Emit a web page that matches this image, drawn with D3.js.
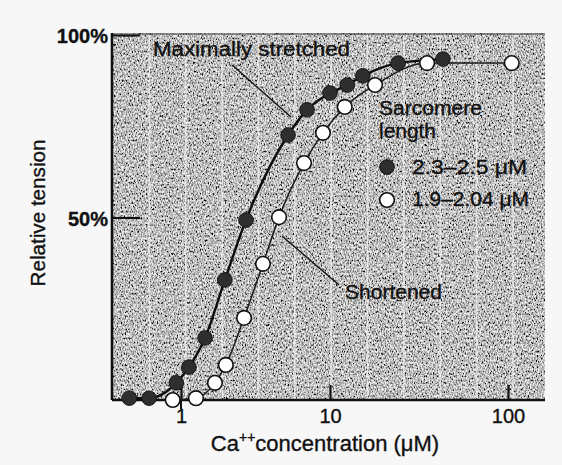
<!DOCTYPE html>
<html>
<head>
<meta charset="utf-8">
<script src="https://cdn.jsdelivr.net/npm/d3@7"></script>
<style>
  html, body { margin: 0; padding: 0; background: #f7f7f7; }
  svg { display: block; }
  text { font-family: "Liberation Sans", Arial, Helvetica, sans-serif; fill: #111; stroke: #111; stroke-width: 0.35px; }
</style>
</head>
<body>
<svg id="chart" width="562" height="465"></svg>
<script>
// ---- data ----
const stretchedConc    = [0.45, 0.61, 0.93, 1.13, 1.45, 1.97, 2.73, 5.23, 7.01, 10, 12.5, 15.3, 24.1, 43.1];
const stretchedTension = [0.5, 0.5, 4.7, 9.0, 17.0, 32.9, 49.3, 72.6, 79.5, 84.1, 86.3, 88.8, 92.3, 93.4];
const shortenedConc    = [0.88, 1.26, 1.69, 2.0, 2.65, 3.55, 4.55, 6.69, 8.97, 12.1, 17.9, 35.1, 105];
const shortenedTension = [0, 0.5, 4.7, 9.6, 22.5, 37.3, 50.1, 64.9, 73.2, 80.3, 86.3, 92.3, 92.3];
const xTickValues = [1, 10, 100];
const xTickLabels = ["1", "10", "100"];
const yTickValues = [50, 100];
const yTickLabels = ["50%", "100%"];
const legendLabels = ["2.3\u20132.5 \u03bcM", "1.9\u20132.04 \u03bcM"];

const stretched = stretchedConc.map((c, i) => ({ c, t: stretchedTension[i] }));
const shortened = shortenedConc.map((c, i) => ({ c, t: shortenedTension[i] }));

// ---- layout ----
const plot = { left: 112, right: 545, top: 33, bottom: 400 };
const svg = d3.select("#chart");

// printed log axis is slightly uneven between decades
const x = d3.scaleLog().domain([1, 10, 100]).range([181, 330, 508]);
const y = d3.scaleLinear().domain([0, 100]).range([400, 35]);

// ---- textured background ----
const defs = svg.append("defs");
const f = defs.append("filter").attr("id", "noise")
  .attr("x", 0).attr("y", 0).attr("width", "100%").attr("height", "100%");
f.append("feTurbulence").attr("type", "fractalNoise")
  .attr("baseFrequency", "0.75 0.45").attr("numOctaves", 2).attr("seed", 7).attr("result", "t");
f.append("feColorMatrix").attr("in", "t").attr("type", "matrix")
  .attr("values", "2.3 0 0 0 -0.6  2.3 0 0 0 -0.6  2.3 0 0 0 -0.6  0 0 0 0 1");

svg.append("rect")
  .attr("x", plot.left).attr("y", plot.top)
  .attr("width", plot.right - plot.left).attr("height", plot.bottom - plot.top)
  .attr("fill", "#8e8e8e");
svg.append("rect")
  .attr("x", plot.left).attr("y", plot.top)
  .attr("width", plot.right - plot.left).attr("height", plot.bottom - plot.top)
  .attr("filter", "url(#noise)").attr("opacity", 0.9);

// graph-paper vertical lines (evenly spaced)
const paper = d3.scaleLinear().domain([0, 11]).range([113, 513]);
svg.append("g").selectAll("line").data(d3.range(1, 12)).join("line")
  .attr("x1", d => paper(d)).attr("x2", d => paper(d))
  .attr("y1", plot.top + 2).attr("y2", plot.bottom - 2)
  .attr("stroke", "#f4f4f4").attr("stroke-width", 1.6).attr("opacity", 0.7);

// top border
svg.append("line").attr("x1", plot.left).attr("x2", plot.right)
  .attr("y1", plot.top + 1).attr("y2", plot.top + 1)
  .attr("stroke", "#444").attr("stroke-width", 1.2);

// ---- axes ----
const xAxis = d3.axisBottom(x).tickValues(xTickValues)
  .tickFormat((d, i) => xTickLabels[i]).tickSize(-15).tickSizeOuter(0);
const gx = svg.append("g").attr("transform", `translate(0,${plot.bottom})`).call(xAxis);
gx.select(".domain").remove();
gx.selectAll(".tick line").attr("stroke", "#111").attr("stroke-width", 2.2);
gx.selectAll(".tick text").attr("font-size", 20).attr("dy", 0).attr("y", 23)
  .attr("fill", "#111").style("font-family", "Liberation Sans, Arial, sans-serif");
// small outer tick under "1"
gx.append("line").attr("x1", x(1)).attr("x2", x(1)).attr("y1", 0).attr("y2", 9)
  .attr("stroke", "#111").attr("stroke-width", 2);

svg.append("line").attr("x1", plot.left).attr("x2", plot.right)
  .attr("y1", plot.bottom).attr("y2", plot.bottom)
  .attr("stroke", "#111").attr("stroke-width", 2.6);

const yAxis = d3.axisLeft(y).tickValues(yTickValues)
  .tickFormat((d, i) => yTickLabels[i]).tickSize(-28).tickSizeOuter(0);
const gy = svg.append("g").attr("transform", `translate(${plot.left},0)`).call(yAxis);
gy.select(".domain").remove();
gy.selectAll(".tick line").attr("stroke", "#111").attr("stroke-width", 2);
gy.selectAll(".tick text").attr("font-size", 20).attr("x", -4).attr("dy", "0.38em")
  .attr("font-weight", "bold")
  .attr("fill", "#111").style("font-family", "Liberation Sans, Arial, sans-serif");

svg.append("line").attr("x1", plot.left).attr("x2", plot.left)
  .attr("y1", plot.top).attr("y2", plot.bottom)
  .attr("stroke", "#111").attr("stroke-width", 2.6);

// axis titles
svg.append("text")
  .attr("transform", "translate(45,213) rotate(-90)")
  .attr("text-anchor", "middle").attr("font-size", 20)
  .attr("textLength", 147).attr("lengthAdjust", "spacingAndGlyphs")
  .text("Relative tension");

const xt = svg.append("text").attr("x", 325).attr("y", 451)
  .attr("text-anchor", "middle").attr("font-size", 22);
xt.append("tspan").text("Ca");
xt.append("tspan").attr("font-size", 14).attr("dy", -9).text("++");
xt.append("tspan").attr("dy", 9).text("concentration (\u03bcM)");

// ---- curves ----
const line = d3.line().x(d => x(d.c)).y(d => y(d.t)).curve(d3.curveMonotoneX);
svg.append("path").datum(shortened).attr("d", line)
  .attr("fill", "none").attr("stroke", "#1a1a1a").attr("stroke-width", 1.5);
svg.append("path").datum(stretched).attr("d", line)
  .attr("fill", "none").attr("stroke", "#0d0d0d").attr("stroke-width", 2.4);

// ---- points ----
svg.append("g").selectAll("circle").data(stretched).join("circle")
  .attr("cx", d => x(d.c)).attr("cy", d => y(d.t)).attr("r", 7.3)
  .attr("fill", "#2e2e2e").attr("stroke", "#151515").attr("stroke-width", 1);
svg.append("g").selectAll("circle").data(shortened).join("circle")
  .attr("cx", d => x(d.c)).attr("cy", d => y(d.t)).attr("r", 7.3)
  .attr("fill", "#ffffff").attr("stroke", "#111").attr("stroke-width", 1.6);

// ---- annotations ----
svg.append("text").attr("x", 153).attr("y", 56).attr("font-size", 20)
  .attr("textLength", 197).attr("lengthAdjust", "spacingAndGlyphs")
  .text("Maximally stretched");
svg.append("line").attr("x1", 232).attr("y1", 65).attr("x2", 291).attr("y2", 117)
  .attr("stroke", "#111").attr("stroke-width", 1.4);

svg.append("text").attr("x", 345).attr("y", 299).attr("font-size", 20)
  .attr("textLength", 97).attr("lengthAdjust", "spacingAndGlyphs")
  .text("Shortened");
svg.append("line").attr("x1", 282).attr("y1", 236).attr("x2", 339).attr("y2", 285)
  .attr("stroke", "#111").attr("stroke-width", 1.4);

// ---- legend ----
svg.append("text").attr("x", 379).attr("y", 115).attr("font-size", 20)
  .attr("textLength", 103).attr("lengthAdjust", "spacingAndGlyphs").text("Sarcomere");
svg.append("text").attr("x", 379).attr("y", 138).attr("font-size", 20)
  .attr("textLength", 57).attr("lengthAdjust", "spacingAndGlyphs").text("length");

const legend = svg.append("g");
const legRows = [
  { label: legendLabels[0], fill: "#2e2e2e", sw: 1, cy: 167, y: 174, len: 115 },
  { label: legendLabels[1], fill: "#ffffff", sw: 1.6, cy: 200, y: 206, len: 117 }
];
legend.selectAll("circle").data(legRows).join("circle")
  .attr("cx", 387).attr("cy", d => d.cy).attr("r", 7.3)
  .attr("fill", d => d.fill).attr("stroke", "#111").attr("stroke-width", d => d.sw);
legend.selectAll("text").data(legRows).join("text")
  .attr("x", 412).attr("y", d => d.y).attr("font-size", 20)
  .attr("textLength", d => d.len).attr("lengthAdjust", "spacingAndGlyphs")
  .text(d => d.label);
</script>
</body>
</html>
